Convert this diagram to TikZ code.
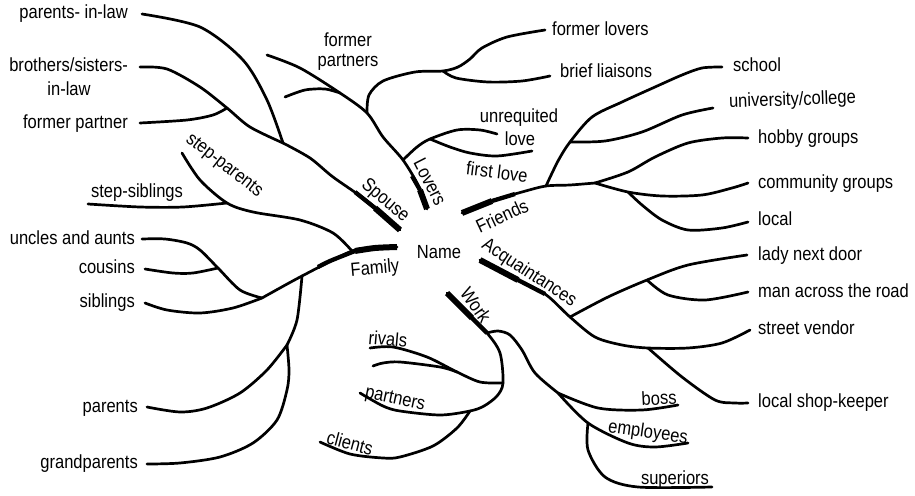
\documentclass[tikz,border=0pt]{standalone}
\usepackage{fontspec}
\setmainfont[FakeStretch=0.87]{Liberation Sans}
\newcommand\mapfont{\fontsize{19}{21}\selectfont}
\begin{document}
\begin{tikzpicture}[x=1pt,y=-1pt,
  br/.style={line width=2.7pt, line cap=round, line join=round},
  trunk/.style={line width=6pt, line cap=butt},
  trunkb/.style={line width=4.3pt, line cap=butt},
  lbl/.style={font=\mapfont, inner sep=0pt},
  lblL/.style={lbl, anchor=mid east},
  lblR/.style={lbl, anchor=mid west},
  lblC/.style={lbl, anchor=center}
]
\useasboundingbox (0,0) rectangle (915,495);

% ---------- junctions and ends ----------
% spouse
\coordinate (spN) at (400,230);
\coordinate (spJ) at (283,143);
\coordinate (bsJ) at (227,108);
\coordinate (pilE) at (142,14);
\coordinate (bslE) at (140,67);
\coordinate (fprE) at (140,123);
% lovers
\coordinate (lvN) at (427,209);
\coordinate (lvJ) at (403,160);
\coordinate (flJ) at (367,113);
\coordinate (fp2J) at (340,93);
\coordinate (fpE) at (267,55);
\coordinate (fp2E) at (285,97);
\coordinate (lbJ) at (443,71);
\coordinate (folE) at (545,30);
\coordinate (blE) at (550,76);
\coordinate (ulJ) at (430,139);
\coordinate (ulE) at (497,134);
\coordinate (frlE) at (532,151);
% friends
\coordinate (frN) at (462,213);
\coordinate (frJ1) at (546,186);
\coordinate (frJ2) at (595,183);
\coordinate (uniJ) at (570,142);
\coordinate (comJ) at (628,192);
\coordinate (schE) at (722,67);
\coordinate (uniE) at (713,108);
\coordinate (hobE) at (748,138);
\coordinate (comE) at (748,183);
\coordinate (locE) at (748,222);
% acquaintances
\coordinate (acN) at (480,260);
\coordinate (acJ) at (570,317);
\coordinate (ladJ) at (647,280);
\coordinate (shJ) at (648,348);
\coordinate (svE) at (750,330);
\coordinate (ladE) at (747,255);
\coordinate (manE) at (748,292);
\coordinate (shE) at (748,403);
% work
\coordinate (wkN) at (447,293);
\coordinate (wkJ) at (487,333);
\coordinate (rvJ) at (503,383);
\coordinate (clJ) at (470,411);
\coordinate (rv2J) at (457,372);
\coordinate (boJ) at (558,393);
\coordinate (emJ) at (588,423);
\coordinate (ptE) at (360,393);
\coordinate (rvE) at (370,348);
\coordinate (rv2E) at (373,366);
\coordinate (clE) at (320,442);
\coordinate (bossE) at (678,405);
\coordinate (empE) at (688,443);
\coordinate (supE) at (712,487);
% family
\coordinate (faN) at (397,247);
\coordinate (spaJ) at (352,251);
\coordinate (paJ) at (302,276);
\coordinate (faJ) at (262,298);
\coordinate (ssJ) at (227,203);
\coordinate (coJ) at (218,268);
\coordinate (gpJ) at (287,345);
\coordinate (spE) at (182,153);
\coordinate (ssE) at (88,204);
\coordinate (sibE) at (145,303);
\coordinate (unE) at (142,239);
\coordinate (coE) at (145,269);
\coordinate (parE) at (147,407);
\coordinate (gpE) at (147,464);

% ---------- branches ----------
% spouse
\draw[br] plot[smooth] coordinates {(spN) (367,201) (333,177) (310,158) (spJ)};
\draw[br] plot[smooth] coordinates {(spJ) (267,100) (243,60) (200,27) (pilE)};
\draw[br] plot[smooth] coordinates {(spJ) (250,127) (bsJ) (200,87) (167,69) (bslE)};
\draw[br] plot[smooth] coordinates {(bsJ) (213,115) (187,120) (fprE)};
\draw[trunk] (spN) -- (375,208);
\draw[trunkb] (375,208) -- (355,192);
% lovers
\draw[br] plot[smooth] coordinates {(lvN) (418,185) (lvJ) (383,137) (flJ) (fp2J) (300,68) (fpE)};
\draw[br] plot[smooth] coordinates {(fp2J) (325,89) (305,90) (fp2E)};
\draw[br] plot[smooth] coordinates {(flJ) (369,95) (383,81) (415,72) (lbJ) (458,67) (470,59) (482,48) (507,37) (folE)};
\draw[br] plot[smooth] coordinates {(lbJ) (456,78) (488,82) (522,81) (blE)};
\draw[br] plot[smooth] coordinates {(lvJ) (417,147) (ulJ) (457,130) (480,130) (ulE)};
\draw[br] plot[smooth] coordinates {(ulJ) (450,147) (470,153) (497,156) (frlE)};
\draw[trunk] (lvN) -- (420,190);
\draw[trunkb] (420,190) -- (412,176);
% friends
\draw[br] plot[smooth] coordinates {(frN) (488,202) (522,192) (frJ1) (570,185) (frJ2)};
\draw[br] plot[smooth] coordinates {(frJ1) (558,161) (uniJ) (592,117) (622,102) (655,87) (682,75) (702,68) (schE)};
\draw[br] plot[smooth] coordinates {(uniJ) (605,141) (642,132) (682,115) (uniE)};
\draw[br] plot[smooth] coordinates {(frJ2) (628,172) (655,157) (688,143) (722,138) (hobE)};
\draw[br] plot[smooth] coordinates {(frJ2) (comJ) (662,196) (702,195) (732,188) (comE)};
\draw[br] plot[smooth] coordinates {(comJ) (642,205) (662,220) (688,230) (722,228) (locE)};
\draw[trunk] (frN) -- (492,201);
\draw[trunkb] (492,201) -- (515,194);
% acquaintances
\draw[br] plot[smooth] coordinates {(acN) (512,277) (545,294) (acJ) (595,337) (622,345) (shJ) (688,348) (722,343) (svE)};
\draw[br] plot[smooth] coordinates {(acJ) (608,297) (ladJ) (688,265) (ladE)};
\draw[br] plot[smooth] coordinates {(ladJ) (668,295) (705,300) (manE)};
\draw[br] plot[smooth] coordinates {(shJ) (682,377) (715,400) (735,403) (shE)};
\draw[trunk] (acN) -- (518,280);
\draw[trunkb] (518,280) -- (545,294);
% work
\draw[br] plot[smooth] coordinates {(wkN) (467,313) (wkJ) (500,353) (rvJ) (497,396) (484,406) (clJ) (440,415) (400,411) (383,406) (ptE)};
\draw[br] plot[smooth] coordinates {(rvJ) (480,382) (rv2J) (427,357) (393,347) (rvE)};
\draw[br] plot[smooth] coordinates {(rv2J) (440,367) (400,362) (383,363) (rv2E)};
\draw[br] plot[smooth] coordinates {(clJ) (457,428) (433,446) (400,457) (383,458) (350,454) (clE)};
\draw[br] plot[smooth] coordinates {(wkJ) (498,331) (510,335) (522,350) (535,373) (boJ)};
\draw[br] plot[smooth] coordinates {(boJ) (598,408) (642,410) (bossE)};
\draw[br] plot[smooth] coordinates {(boJ) (emJ) (628,443) (655,447) (empE)};
\draw[br] plot[smooth] coordinates {(emJ) (588,450) (605,477) (638,487) (supE)};
\draw[trunk] (wkN) -- (472,318);
\draw[trunkb] (472,318) -- (487,333);
% family
\draw[br] plot[smooth] coordinates {(faN) (375,248) (spaJ) (paJ) (faJ)};
\draw[br] plot[smooth] coordinates {(spaJ) (333,233) (300,220) (253,212) (ssJ) (200,180) (spE)};
\draw[br] plot[smooth] coordinates {(ssJ) (183,207) (140,207) (ssE)};
\draw[br] plot[smooth] coordinates {(faJ) (233,308) (200,313) (167,310) (sibE)};
\draw[br] plot[smooth] coordinates {(faJ) (240,290) (coJ) (200,250) (187,243) (165,239) (unE)};
\draw[br] plot[smooth] coordinates {(coJ) (193,273) (173,273) (coE)};
\draw[br] plot[smooth] coordinates {(paJ) (297,320) (gpJ)};
\draw[br] plot[smooth] coordinates {(gpJ) (267,370) (240,393) (207,408) (180,412) (parE)};
\draw[br] plot[smooth] coordinates {(gpJ) (289,370) (287,390) (277,420) (253,443) (220,457) (180,463) (gpE)};
\draw[trunk] plot[smooth] coordinates {(faN) (375,248) (355,251)};
\draw[trunkb] plot[smooth] coordinates {(355,251) (330,261) (318,267)};

% ---------- labels ----------
\node[lblC] (name) at (439,252) {Name};
\node[lblC, rotate=-40] (spouse) at (385,201) {Spouse};
\node[lblC, rotate=-63] (lovers) at (430,182) {Lovers};
\node[lblC, rotate=25] (friends) at (502,216) {Friends};
\node[lblC, rotate=5] (family) at (375,269) {Family};
\node[lblC, rotate=-55] (work) at (476,305) {Work};
\node[lblC, rotate=-33] (acq) at (529,273) {Acquaintances};

\node[lblL] (pil) at (128,16) {parents- in-law};
\node[lblL] (bsl) at (128,69) {brothers/sisters-};
\node[lblC] (bsl2) at (69,89) {in-law};
\node[lblL] (fpr) at (128,126) {former partner};
\node[lblC] (ssib) at (137,193) {step-siblings};
\node[lblC, rotate=-38] (spar) at (224,166) {step-parents};
\node[lblL] (unc) at (135,242) {uncles and aunts};
\node[lblL] (cou) at (135,271) {cousins};
\node[lblL] (sib) at (135,305) {siblings};
\node[lblL] (par) at (138,410) {parents};
\node[lblL] (gpa) at (138,466) {grandparents};

\node[lblC] (fps1) at (348,40) {former};
\node[lblC] (fps2) at (348,62) {partners};
\node[lblR] (fol) at (552,33) {former lovers};
\node[lblR] (bli) at (560,75) {brief liaisons};
\node[lblC] (unr1) at (519,118) {unrequited};
\node[lblC] (unr2) at (520,139) {love};
\node[lblC, rotate=-7] (fir) at (497,172) {first love};

\node[lblR] (sch) at (733,69) {school};
\node[lblR, rotate=2] (uni) at (729,105) {university/college};
\node[lblR] (hob) at (758,141) {hobby groups};
\node[lblR] (com) at (758,186) {community groups};
\node[lblR] (loc) at (758,223) {local};
\node[lblR] (lad) at (758,258) {lady next door};
\node[lblR] (man) at (758,295) {man across the road};
\node[lblR] (stv) at (758,332) {street vendor};
\node[lblR] (lsk) at (758,405) {local shop-keeper};

\node[lblC, rotate=-5] (riv) at (388,339) {rivals};
\node[lblC, rotate=-12] (ptn) at (395,400) {partners};
\node[lblC, rotate=-15] (cli) at (350,443) {clients};
\node[lblC, rotate=3] (bos) at (659,398) {boss};
\node[lblC, rotate=-8] (emp) at (648,433) {employees};
\node[lblC] (sup) at (675,480) {superiors};
\end{tikzpicture}
\end{document}
